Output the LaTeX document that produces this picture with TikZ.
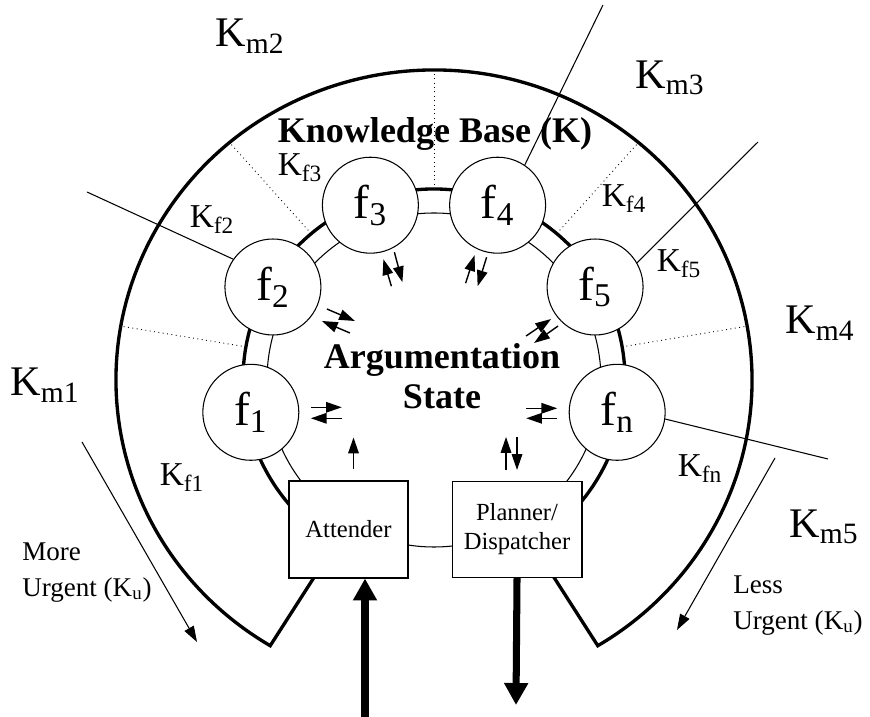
\documentclass[tikz,border=0pt]{standalone}
\usepackage{fontspec}
\setmainfont{Liberation Serif}
\usepackage{tikz}
\usetikzlibrary{arrows.meta,positioning}

\begin{document}
\begin{tikzpicture}[
    x=0.02cm, y=0.02cm,
    func/.style={circle, draw, fill=white, line width=0.6pt, minimum size=1.92cm, inner sep=0pt, font=\fontsize{27}{30}\selectfont},
    unit/.style={rectangle, draw, fill=white, line width=0.6pt, inner sep=0pt, align=center, font=\fontsize{14}{16.5}\selectfont},
    kb/.style={line width=1.9pt},
    ring/.style={line width=0.6pt},
    part/.style={dotted, line width=0.5pt},
    border/.style={line width=0.6pt},
    pair/.style={line width=0.8pt, -{Triangle[length=9pt,width=6pt]}},
    flow/.style={line width=4pt, -{Triangle[length=12.5pt,width=13pt]}},
    urge/.style={line width=0.6pt, -{Triangle[length=9pt,width=6pt]}},
    mlabel/.style={font=\fontsize{24}{28}\selectfont, inner sep=0pt},
    flabel/.style={font=\fontsize{19}{22}\selectfont, inner sep=0pt},
    title/.style={font=\bfseries\fontsize{20.5}{23}\selectfont, align=center, inner sep=0pt},
    note/.style={font=\fontsize{15.4}{20.5}\selectfont, align=left, inner sep=0pt}
]
    \useasboundingbox (0,0) rectangle (870,717);
    \coordinate (C) at (434,337);

    % Knowledge base band and inner ring
    \draw[kb] ([shift={(239:191)}]C) -- ([shift={(239:318 and 310)}]C)
        arc[start angle=239, end angle=-59, x radius=318, y radius=310]
        -- ([shift={(-59:191)}]C) arc[start angle=-59, end angle=239, radius=191];
    \draw[ring] (C) circle[radius=167];

    % Partitions of the knowledge base
    \draw[part] ([shift={(170:191)}]C) -- ([shift={(170:318 and 310)}]C);
    \draw[part] ([shift={(130:191)}]C) -- ([shift={(130:318 and 310)}]C);
    \draw[part] ([shift={(90:191)}]C) -- ([shift={(90:318 and 310)}]C);
    \draw[part] ([shift={(50:191)}]C) -- ([shift={(50:318 and 310)}]C);
    \draw[part] ([shift={(10:191)}]C) -- ([shift={(10:318 and 310)}]C);

    % Functions
    \node[func] (f1) at ([shift={(190:186)}]C) {f\textsubscript{1}};
    \node[func] (f2) at ([shift={(150:186)}]C) {f\textsubscript{2}};
    \node[func] (f3) at ([shift={(110:186)}]C) {f\textsubscript{3}};
    \node[func] (f4) at ([shift={(70:186)}]C) {f\textsubscript{4}};
    \node[func] (f5) at ([shift={(30:186)}]C) {f\textsubscript{5}};
    \node[func] (fn) at ([shift={(-10:186)}]C) {f\textsubscript{n}};

    % Attender and planner
    \node[unit, minimum width=2.38cm, minimum height=1.94cm] (att) at (348.5,187.5) {Attender};
    \node[unit, minimum width=2.6cm, minimum height=1.92cm, right=0.86cm of att] (plan) {Planner/\\Dispatcher};

    % Meta-level boundaries
    \coordinate (b12) at (87,525);
    \coordinate (b23) at (603,712);
    \coordinate (b34) at (758,575);
    \coordinate (b45) at (828,258);
    \draw[border] (b12) -- (f2.145);
    \draw[border] (b23) -- (f4.56);
    \draw[border] (b34) -- (f5.30);
    \draw[border] (b45) -- (fn.-8);

    % Labels
    \node[title, anchor=base] (kbase) at (435,574) {Knowledge Base (K)};
    \node[title] (state) at (442,341) {Argumentation\\State};

    \node[mlabel] (km1) at (45,332) {K\textsubscript{m1}};
    \node[mlabel] (km2) at (250,681) {K\textsubscript{m2}};
    \node[mlabel] (km3) at (670,639) {K\textsubscript{m3}};
    \node[mlabel] (km4) at (820,394) {K\textsubscript{m4}};
    \node[mlabel] (km5) at (824,190) {K\textsubscript{m5}};

    \node[flabel] (kf1) at (182,239) {K\textsubscript{f1}};
    \node[flabel] (kf2) at (212,497) {K\textsubscript{f2}};
    \node[flabel] (kf3) at (300,549) {K\textsubscript{f3}};
    \node[flabel] (kf4) at (624,518) {K\textsubscript{f4}};
    \node[flabel] (kf5) at (679,453) {K\textsubscript{f5}};
    \node[flabel] (kfn) at (700,248) {K\textsubscript{fn}};

    % Exchange with the argumentation state
    \draw[pair] (f1) ++(60,5) -- ++(31,0);
    \draw[pair] (f1) ++(91,-6) -- ++(-31,0);
    \draw[pair] (f2) ++(54,-22) -- ++(28,-12);
    \draw[pair] (f2) ++(77,-46) -- ++(-28,12);
    \draw[pair] (f3) ++(21,-81) -- ++(-8,27);
    \draw[pair] (f3) ++(24,-47) -- ++(8,-30);
    \draw[pair] (f4) ++(-32,-78) -- ++(9,28);
    \draw[pair] (f4) ++(-11,-52) -- ++(-9,-29);
    \draw[pair] (f5) ++(-69,-49) -- ++(25,17);
    \draw[pair] (f5) ++(-37,-39) -- ++(-24,-17);
    \draw[pair] (fn) ++(-91,4) -- ++(31,0);
    \draw[pair] (fn) ++(-60,-6) -- ++(-31,0);
    \draw[pair] (att.north) ++(5,11) -- ++(0,32);
    \draw[pair] (plan.north) ++(-11,11) -- ++(0,33);
    \draw[pair] (plan.north) ++(0,44) -- ++(0,-33);

    % Input and output
    \coordinate (in) at (365,0);
    \coordinate (out) at (516,12);
    \draw[flow] (in) -- (in |- att.south);
    \draw[flow] (plan.south) -- (out);

    % Urgency
    \node[note, anchor=north west] (more) at (22,175) {More\\Urgent (K\textsubscript{u})};
    \node[note, anchor=north west] (less) at (733,142) {Less\\Urgent (K\textsubscript{u})};
    \coordinate (mu1) at (82,275);
    \coordinate (mu2) at (197,75);
    \coordinate (lu1) at (775,259);
    \coordinate (lu2) at (677,87);
    \draw[urge] (mu1) -- (mu2);
    \draw[urge] (lu1) -- (lu2);
\end{tikzpicture}
\end{document}
